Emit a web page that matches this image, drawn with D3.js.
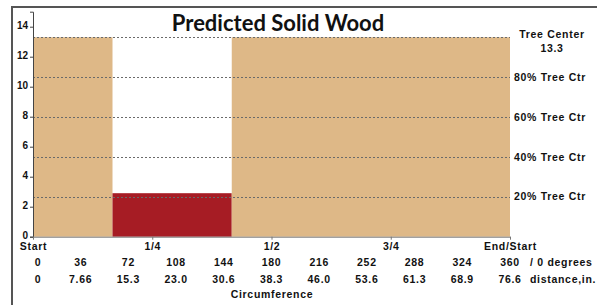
<!DOCTYPE html>
<html lang="en">
<head>
<meta charset="UTF-8">
<script src="https://cdn.jsdelivr.net/npm/d3@7/dist/d3.min.js"></script>
<title>Predicted Solid Wood</title>
<style>
    body { margin: 0; background: #fff; }
    svg text { font-family: "Liberation Sans", Arial, sans-serif; font-weight: bold; fill: #111; }
    .lbl { font-size: 10.5px; letter-spacing: 0.7px; }
    .ylbl { font-size: 10px; letter-spacing: 0px; }
</style>
</head>
<body>
<svg id="chart" width="597" height="305"></svg>
<script>
    // segments around the circumference (degrees) and their heights
    var segFrom  = [0, 60, 150],
        segTo    = [60, 150, 360],
        segValue = [13.3, 2.9, 13.3],
        segKind  = ["solid", "decay", "solid"];

    var treeCenter = 13.3,
        refPct = [20, 40, 60, 80, 100];

    var yTicks = [0, 2, 4, 6, 8, 10, 12, 14];
    var quarterDeg = [0, 90, 180, 270, 360],
        quarterLabels = ["Start", "1/4", "1/2", "3/4", "End/Start"];
    var degTicks = [0, 36, 72, 108, 144, 180, 216, 252, 288, 324, 360],
        distLabels = ["0", "7.66", "15.3", "23.0", "30.6", "38.3", "46.0", "53.6", "61.3", "68.9", "76.6"];

    var svg = d3.select("#chart");

    var x = d3.scaleLinear().domain([0, 360]).range([33, 510]),
        y = d3.scaleLinear().domain([0, 15]).range([236.7, 11.7]);

    var colors = { solid: "#deb887", decay: "#a61c24" };

    // outer frame (top + left)
    svg.append("path")
        .attr("d", "M12,305V7H597")
        .attr("fill", "none")
        .attr("stroke", "#555")
        .attr("stroke-width", 2);

    // bars
    svg.selectAll("rect.seg")
        .data(segFrom.map(function(d, i) {
            return { from: d, to: segTo[i], v: segValue[i], kind: segKind[i] };
        }))
        .enter().append("rect")
        .attr("class", "seg")
        .attr("x", function(d) { return x(d.from); })
        .attr("width", function(d) { return x(d.to) - x(d.from); })
        .attr("y", function(d) { return y(d.v); })
        .attr("height", function(d) { return y(0) - y(d.v); })
        .attr("fill", function(d) { return colors[d.kind]; });

    // dotted reference lines at % of tree center
    svg.selectAll("line.ref")
        .data(refPct)
        .enter().append("line")
        .attr("class", "ref")
        .attr("x1", x(0)).attr("x2", x(360))
        .attr("y1", function(d) { return Math.round(y(treeCenter * d / 100)) + 0.5; })
        .attr("y2", function(d) { return Math.round(y(treeCenter * d / 100)) + 0.5; })
        .attr("stroke", "#6a6a6a")
        .attr("stroke-width", 1)
        .attr("stroke-dasharray", "2,2");

    // right hand labels
    var rl = svg.append("g");
    refPct.filter(function(d) { return d < 100; }).forEach(function(p) {
        rl.append("text")
            .attr("class", "lbl")
            .attr("x", 514)
            .attr("y", y(treeCenter * p / 100))
            .attr("dy", "0.35em")
            .text(p + "% Tree Ctr");
    });
    rl.append("text").attr("class", "lbl")
        .attr("x", 552).attr("y", y(treeCenter)).attr("dy", "0.1em")
        .attr("text-anchor", "middle").text("Tree Center");
    rl.append("text").attr("class", "lbl")
        .attr("x", 552).attr("y", y(treeCenter) + 14).attr("dy", "0.1em")
        .attr("text-anchor", "middle").text(treeCenter.toFixed(1));

    // y axis
    var yAxis = svg.append("g")
        .attr("transform", "translate(" + x(0) + ",0)")
        .call(d3.axisLeft(y).tickValues(yTicks).tickSize(3).tickPadding(2));
    yAxis.attr("font-size", null).attr("font-family", null);
    yAxis.select(".domain").attr("stroke", "#444");
    yAxis.selectAll(".tick line").attr("stroke", "#444");
    yAxis.selectAll("text").attr("class", "ylbl").attr("dy", "0.2em");

    // x axis (quarters)
    var xAxis = svg.append("g")
        .attr("transform", "translate(0," + y(0) + ")")
        .call(d3.axisBottom(x).tickValues(quarterDeg).tickSize(3).tickSizeOuter(0)
            .tickFormat(function(d, i) { return quarterLabels[i]; }));
    xAxis.attr("font-size", null).attr("font-family", null);
    xAxis.select(".domain").attr("stroke", "#777");
    xAxis.selectAll(".tick line").attr("stroke", "#777");
    xAxis.selectAll("text").attr("class", "lbl").attr("y", 6).attr("dy", "0.71em");

    // degrees row
    svg.append("g").selectAll("text")
        .data(degTicks)
        .enter().append("text")
        .attr("class", "lbl")
        .attr("x", function(d) { return d === 0 ? x(d) + 5 : x(d); })
        .attr("y", 262).attr("dy", "0.35em")
        .attr("text-anchor", "middle")
        .text(function(d) { return d; });
    svg.append("text").attr("class", "lbl")
        .attr("x", 530).attr("y", 262).attr("dy", "0.35em")
        .text("/ 0 degrees");

    // distance row
    svg.append("g").selectAll("text")
        .data(distLabels)
        .enter().append("text")
        .attr("class", "lbl")
        .attr("x", function(d, i) { return i === 0 ? x(degTicks[i]) + 5 : x(degTicks[i]); })
        .attr("y", 279).attr("dy", "0.35em")
        .attr("text-anchor", "middle")
        .text(function(d) { return d; });
    svg.append("text").attr("class", "lbl")
        .attr("x", 530).attr("y", 279).attr("dy", "0.35em")
        .text("distance,in.");

    svg.append("text").attr("class", "lbl")
        .attr("x", 272).attr("y", 294).attr("dy", "0.35em")
        .attr("text-anchor", "middle")
        .text("Circumference");

    // title
    svg.append("text")
        .attr("x", 278).attr("y", 31)
        .attr("text-anchor", "middle")
        .style("font-family", "Lato, 'Open Sans', sans-serif")
        .style("font-weight", "bold")
        .style("font-size", "22px")
        .text("Predicted Solid Wood");
</script>
</body>
</html>
